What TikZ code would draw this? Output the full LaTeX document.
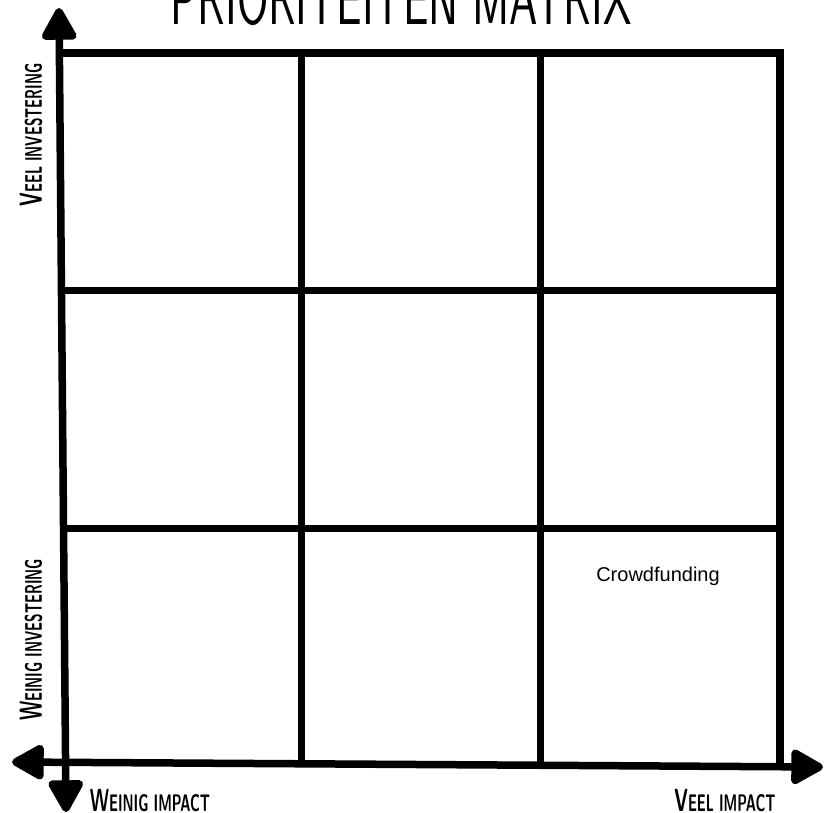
\documentclass[tikz,border=0pt]{standalone}
\usepackage{graphicx}
\usepackage{fontspec}
\newfontfamily\arialfont{Liberation Sans}
\usetikzlibrary{arrows.meta}
% small caps look: big first letter, smaller rest, narrowed
\newcommand{\capsize}[2]{\scalebox{0.58}[1]{{\fontsize{32}{32}\selectfont #1}{\fontsize{24}{24}\selectfont #2}}}
\tikzset{
  bigarrow/.tip={Triangle[length=36pt,width=38pt,round]},
  gridline/.style={line width=7.5pt},
  axislabel/.style={font=\sffamily\bfseries, inner sep=0pt}
}
\begin{document}
\begin{tikzpicture}[x=1pt,y=-1pt]
    % Parameters
    \def\gl{62} % left edge of the grid
    \def\gr{780} % right edge of the grid
    \def\gt{53} % top edge of the grid
    \def\gb{766} % bottom edge of the grid

    \useasboundingbox (0,0) rectangle (824,813);

    % Axes with arrows at both ends
    \draw[gridline, bigarrow-bigarrow] (59,8) -- (66,812);
    \draw[gridline, bigarrow-bigarrow] (12,762) -- (823,767);

    % Top and right edge of the matrix
    \draw[gridline] (\gl,\gt) -- (\gr,\gt) -- (\gr,\gb);

    % Inner lines of the 3x3 grid
    \foreach \i in {1,2} {
        \pgfmathsetmacro{\xpos}{\gl+\i*(\gr-\gl)/3}
        \pgfmathsetmacro{\ypos}{\gt+\i*(\gb-\gt)/3}
        \draw[gridline] (\xpos,\gt) -- (\xpos,\gb);
        \draw[gridline] (\gl,\ypos) -- (\gr,\ypos);
    }

    % Title (cut off at the top)
    \node[font=\sffamily, inner sep=0pt, anchor=base] (title) at (401,25) {\scalebox{0.63}[1]{\fontsize{72}{72}\selectfont PRIORITEITEN MATRIX}};

    % Axis labels
    \node[axislabel, rotate=90] (veelinv) at (31,135) {\capsize{V}{EEL INVESTERING}};
    \node[axislabel, rotate=90] (weinigmin) at (31,640) {\capsize{W}{EINIG INVESTERING}};
    \node[axislabel] (weinigimp) at (150,801) {\capsize{W}{EINIG IMPACT}};
    \node[axislabel] (veelimp) at (725,801) {\capsize{V}{EEL IMPACT}};

    % Item in the matrix
    \node[font=\arialfont\fontsize{20}{20}\selectfont] (crowd) at (658,576) {Crowdfunding};
\end{tikzpicture}
\end{document}
